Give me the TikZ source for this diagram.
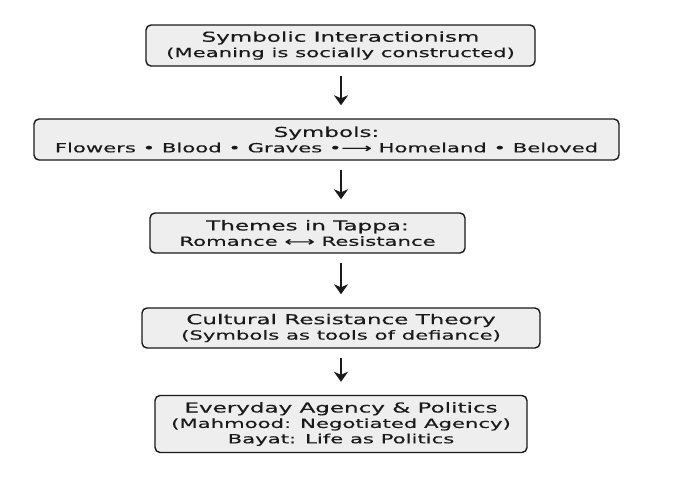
\documentclass[tikz,border=0pt]{standalone}
\usepackage{fontspec}
\setmainfont[FakeStretch=1.68, FakeBold=0.3]{DejaVu Sans}
\usetikzlibrary{arrows.meta,calc,positioning}
\definecolor{boxfill}{HTML}{EEEEEF}
\definecolor{ink}{HTML}{1A1A1A}
\begin{document}
\begin{tikzpicture}[x=1pt, y=-1pt, >={Stealth[length=10pt,width=14pt,inset=3pt]}, text=ink]
\useasboundingbox [fill=white] (0,0) rectangle (685,482);
\newcommand{\hd}{\fontsize{13.7}{15.4}\selectfont}
\newcommand{\tx}{\fontsize{12.6}{15.4}\selectfont}
\newcommand{\flowbox}[1][]{\node [#1, draw=ink, line width=1.4pt, rounded corners=5pt, fill=boxfill, align=center, inner sep=0pt, font=\tx]}

\flowbox [minimum width=389pt, minimum height=41pt] (SI) at (340.5,45.5)
  {{\hd Symbolic Interactionism}\\(Meaning is socially constructed)};
\flowbox [minimum width=585pt, minimum height=41pt] (SY) at (326.5,139.5)
  {{\hd Symbols:}\\Flowers • Blood • Graves •⟶ Homeland • Beloved};
\flowbox [minimum width=315pt, minimum height=40pt] (TT) at (307.5,233)
  {{\hd Themes in Tappa:}\\Romance ⟷ Resistance};
\flowbox [minimum width=398pt, minimum height=40pt] (CR) at (341,328)
  {{\hd Cultural Resistance Theory}\\(Symbols as tools of defiance)};
\flowbox [minimum width=372pt, minimum height=57pt] (EA) at (341,424)
  {{\hd Everyday Agency \& Politics}\\(Mahmood: Negotiated Agency)\\Bayat: Life as Politics};

% arrows all on one vertical line
\coordinate (ax) at (341,0);
\newcommand{\down}[2]{
  \draw [->, line width=2.7pt, draw=ink, shorten <=9pt, shorten >=13pt] (ax |- #1.south) -- (ax |- #2.north);
}
\down{SI}{SY}
\down{SY}{TT}
\down{TT}{CR}
\down{CR}{EA}
\end{tikzpicture}
\end{document}
